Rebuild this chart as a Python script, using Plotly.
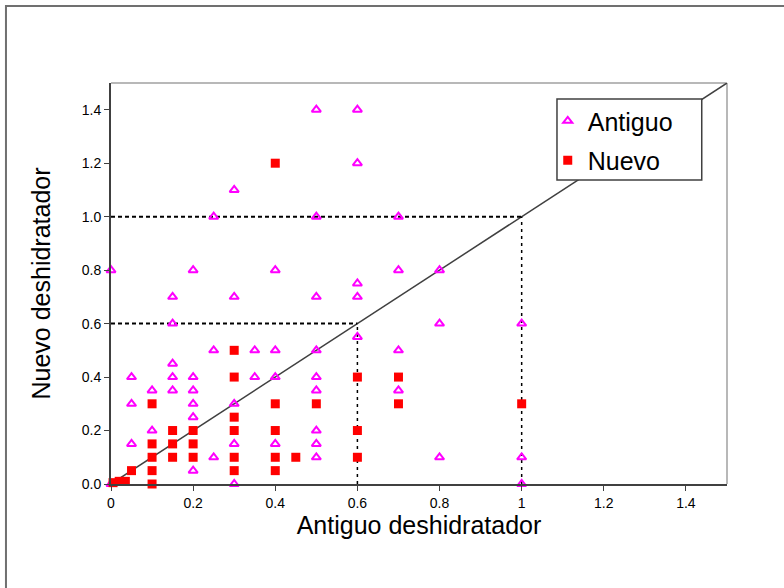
import plotly.graph_objects as go

# Data: Antiguo (triangles)
antiguo_x = [0.5, 0.6, 0.6, 0.3, 0.25, 0.5, 0.7, 0.0, 0.2, 0.4, 0.7, 0.8, 0.6,
             0.15, 0.3, 0.5, 0.6, 0.15, 0.8, 1.0,
             0.25, 0.05, 0.15, 0.15, 0.15, 0.1, 0.2, 0.2, 0.2, 0.2, 0.05, 0.1, 0.05,
             0.25, 0.2, 0.0,
             0.35, 0.4, 0.5, 0.35, 0.4, 0.5, 0.5, 0.3, 0.3, 0.4, 0.5, 0.5, 0.5, 0.3,
             0.6, 0.7, 0.7, 0.8, 1.0, 1.0]
antiguo_y = [1.4, 1.4, 1.2, 1.1, 1.0, 1.0, 1.0, 0.8, 0.8, 0.8, 0.8, 0.8, 0.75,
             0.7, 0.7, 0.7, 0.7, 0.6, 0.6, 0.6,
             0.5, 0.4, 0.45, 0.4, 0.35, 0.35, 0.4, 0.35, 0.3, 0.25, 0.3, 0.2, 0.15,
             0.1, 0.05, 0.0,
             0.5, 0.5, 0.5, 0.4, 0.4, 0.4, 0.35, 0.3, 0.15, 0.15, 0.2, 0.15, 0.1, 0.0,
             0.55, 0.5, 0.35, 0.1, 0.1, 0.0]

# Data: Nuevo (squares)
nuevo_x = [0.4, 0.005, 0.02, 0.035, 0.05,
           0.1, 0.1, 0.1, 0.1, 0.1,
           0.15, 0.15, 0.15, 0.2, 0.2, 0.2,
           0.3, 0.3, 0.3, 0.3, 0.3, 0.3,
           0.4, 0.4, 0.4, 0.4, 0.45, 0.5,
           0.6, 0.6, 0.6, 0.7, 0.7, 1.0]
nuevo_y = [1.2, 0.005, 0.01, 0.01, 0.05,
           0.3, 0.15, 0.1, 0.05, 0.0,
           0.2, 0.15, 0.1, 0.2, 0.15, 0.1,
           0.5, 0.4, 0.25, 0.2, 0.1, 0.05,
           0.3, 0.2, 0.1, 0.05, 0.1, 0.3,
           0.4, 0.2, 0.1, 0.4, 0.3, 0.3]

# Reference lines
diag_x = [0, 1.5]
diag_y = [0, 1.5]
ref_levels = [1.0, 0.6]

x_ticks = [0, 0.2, 0.4, 0.6, 0.8, 1.0, 1.2, 1.4]
x_ticktext = ["0", "0.2", "0.4", "0.6", "0.8", "1", "1.2", "1.4"]
y_ticks = [0, 0.2, 0.4, 0.6, 0.8, 1.0, 1.2, 1.4]
y_ticktext = ["0.0", "0.2", "0.4", "0.6", "0.8", "1.0", "1.2", "1.4"]

fig = go.Figure()

fig.add_trace(go.Scatter(x=diag_x, y=diag_y, mode="lines",
                         line=dict(color="#404040", width=1.5),
                         showlegend=False, hoverinfo="skip"))
for lv in ref_levels:
    fig.add_trace(go.Scatter(x=[0, lv], y=[lv, lv], mode="lines",
                             line=dict(color="black", width=2, dash="4px,3px"),
                             showlegend=False, hoverinfo="skip"))
    fig.add_trace(go.Scatter(x=[lv, lv], y=[0, lv], mode="lines",
                             line=dict(color="black", width=1.5, dash="3px,4px"),
                             showlegend=False, hoverinfo="skip"))

fig.add_trace(go.Scatter(x=antiguo_x, y=antiguo_y, mode="markers", name="Antiguo",
                         legendgroup="a",
                         marker=dict(symbol="triangle-up-open", size=8, color="#FF00FF",
                                     line=dict(width=2, color="#FF00FF")),
                         cliponaxis=False))
fig.add_trace(go.Scatter(x=nuevo_x, y=nuevo_y, mode="markers", name="Nuevo",
                         legendgroup="n",
                         marker=dict(symbol="square", size=9, color="#FF0000",
                                     line=dict(width=0)),
                         cliponaxis=False))

# plot frame top/right (light gray) and outer border
fig.add_shape(type="line", xref="paper", yref="paper", x0=0, x1=1, y0=1, y1=1,
              line=dict(color="#A0A0A0", width=1.5), layer="below")
fig.add_shape(type="line", xref="paper", yref="paper", x0=1, x1=1, y0=0, y1=1,
              line=dict(color="#A0A0A0", width=1.5), layer="below")
fig.add_shape(type="rect", xref="paper", yref="paper", x0=-0.1705, x1=1.2, y0=-0.3, y1=1.192,
              line=dict(color="#707070", width=2), fillcolor="rgba(0,0,0,0)", layer="below")
# legend box
fig.add_shape(type="rect", xref="paper", yref="paper", x0=0.724, x1=0.959, y0=0.758, y1=0.960,
              line=dict(color="#404040", width=1.5), fillcolor="white", layer="above")

fig.update_layout(
    width=784, height=588,
    margin=dict(l=111, r=57, t=83, b=104),
    paper_bgcolor="white", plot_bgcolor="white",
    font=dict(family="Liberation Sans, Arial, sans-serif", color="black"),
    showlegend=True,
    legend=dict(x=0.709, y=0.9625, xanchor="left", yanchor="top",
                bgcolor="rgba(0,0,0,0)", borderwidth=0, traceorder="grouped",
                font=dict(size=25), tracegroupgap=4),
    xaxis=dict(range=[0, 1.5], tickvals=x_ticks, ticktext=x_ticktext,
               showgrid=False, zeroline=False, showline=True, linecolor="#404040",
               linewidth=2, ticks="outside", ticklen=5, tickcolor="#404040",
               tickfont=dict(size=14),
               title=dict(text="Antiguo deshidratador", font=dict(size=25), standoff=6)),
    yaxis=dict(range=[0, 1.5], tickvals=y_ticks, ticktext=y_ticktext,
               showgrid=False, zeroline=False, showline=True, linecolor="#404040",
               linewidth=2, ticks="outside", ticklen=5, tickcolor="#404040",
               tickfont=dict(size=14),
               title=dict(text="Nuevo deshidratador", font=dict(size=25), standoff=24)),
)

fig.write_html("out.html", config={"displayModeBar": False},
               post_script="document.body.style.margin='0px';")
